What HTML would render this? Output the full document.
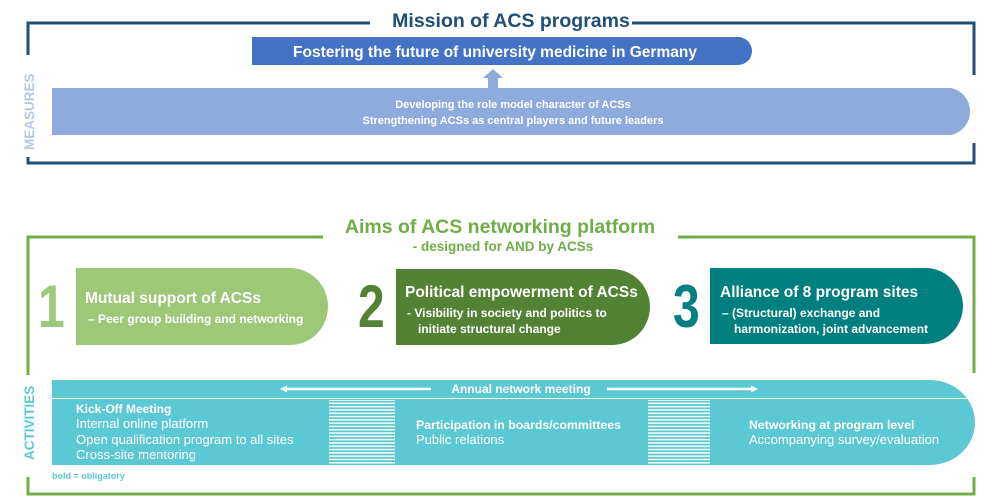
<!DOCTYPE html>
<html><head><meta charset="utf-8"><style>
html,body{margin:0;padding:0;background:#fff;width:1000px;height:498px;overflow:hidden}
svg{display:block}
text{font-family:"Liberation Sans",sans-serif;font-weight:bold}
</style></head><body>
<svg width="1000" height="498" viewBox="0 0 1000 498" xmlns="http://www.w3.org/2000/svg">
<g stroke="#1f4e79" stroke-width="3" fill="none">
<polyline points="28,55 28,23 370,23"/>
<polyline points="632,23 974,23 974,75"/>
<polyline points="28,157 28,163 974,163 974,143"/>
</g>
<text x="511" y="27" text-anchor="middle" font-size="19.5" fill="#1f4e79">Mission of ACS programs</text>
<path d="M252,37 H738 A14,14 0 0 1 738,65 H252 Z" fill="#4472c4"/>
<text x="495" y="57" text-anchor="middle" font-size="15.5" fill="#fff">Fostering the future of university medicine in Germany</text>
<path d="M488,88 V78 H483 L493,69 L503,78 H498 V88 Z" fill="#8faadc"/>
<path d="M52,88 H951 A24,24 0 0 1 951,135 H52 Z" fill="#8faadc"/>
<text x="513" y="108" text-anchor="middle" font-size="11" fill="#fff">Developing the role model character of ACSs</text>
<text x="513" y="124" text-anchor="middle" font-size="11" fill="#fff">Strengthening ACSs as central players and future leaders</text>
<text transform="translate(34,150) rotate(-90)" font-size="13.5" fill="#b4c7e7">MEASURES</text>

<g stroke="#70ad47" stroke-width="3" fill="none">
<polyline points="28,375 28,237 323,237"/>
<polyline points="678,237 974,237 974,373"/>
<polyline points="28,477 28,494 974,494 974,477"/>
</g>
<text x="500" y="233" text-anchor="middle" font-size="19.5" fill="#70ad47">Aims of ACS networking platform</text>
<text x="503" y="251" text-anchor="middle" font-size="13.5" fill="#70ad47">- designed for AND by ACSs</text>

<text x="38" y="327" font-size="60" fill="#9dc97a" transform="translate(38,0) scale(0.8,1) translate(-38,0)">1</text>
<path d="M76,268 H290 A38,38.5 0 0 1 290,345 H76 Z" fill="#9cc878"/>
<text x="85" y="303" font-size="15.5" fill="#fff">Mutual support of ACSs</text>
<text x="88" y="323" font-size="12" fill="#fff">– Peer group building and networking</text>

<text x="358" y="327" font-size="60" fill="#548235" transform="translate(358,0) scale(0.8,1) translate(-358,0)">2</text>
<path d="M396,269 H612 A38,38 0 0 1 612,345 H396 Z" fill="#548235"/>
<text x="405" y="297" font-size="15.5" fill="#fff">Political empowerment of ACSs</text>
<text x="407" y="317" font-size="12" fill="#fff">- Visibility in society and politics to</text>
<text x="418" y="333" font-size="12" fill="#fff">initiate structural change</text>

<text x="673" y="327" font-size="60" fill="#008080" transform="translate(673,0) scale(0.8,1) translate(-673,0)">3</text>
<path d="M710,268 H925 A38,38 0 0 1 925,344 H710 Z" fill="#007f7f"/>
<text x="720" y="297" font-size="15.5" fill="#fff">Alliance of 8 program sites</text>
<text x="722" y="317" font-size="12" fill="#fff">– (Structural) exchange and</text>
<text x="734" y="333" font-size="12" fill="#fff">harmonization, joint advancement</text>

<path d="M52,380 H930 A45,42.5 0 0 1 930,465 H52 Z" fill="#5bc8d4"/>
<line x1="52" y1="398.5" x2="970" y2="398.5" stroke="#fff" stroke-width="1"/>
<line x1="285" y1="389" x2="431" y2="389" stroke="#fff" stroke-width="2.5"/>
<path d="M280,389 L287,385.5 L287,392.5 Z" fill="#fff"/>
<line x1="607" y1="389" x2="752" y2="389" stroke="#fff" stroke-width="2.5"/>
<path d="M758,389 L751,385.5 L751,392.5 Z" fill="#fff"/>
<text x="521" y="393" text-anchor="middle" font-size="12" fill="#fff">Annual network meeting</text>
<defs><pattern id="st" width="4" height="3.3" patternUnits="userSpaceOnUse"><rect width="4" height="1.5" fill="#fff"/></pattern></defs>
<rect x="329" y="400" width="66" height="65" fill="url(#st)"/>
<rect x="648" y="400" width="62" height="65" fill="url(#st)"/>
<g font-size="12.5" fill="#fff">
<text x="76" y="413" font-size="12">Kick-Off Meeting</text>
<text x="76" y="428" font-size="13" style="font-weight:normal">Internal online platform</text>
<text x="76" y="444" font-size="13" style="font-weight:normal">Open qualification program to all sites</text>
<text x="76" y="459" font-size="13" style="font-weight:normal">Cross-site mentoring</text>
<text x="416" y="429" font-size="12.3">Participation in boards/committees</text>
<text x="416" y="444" font-size="13" style="font-weight:normal">Public relations</text>
<text x="749" y="429" font-size="12.3">Networking at program level</text>
<text x="749" y="444" font-size="13" style="font-weight:normal">Accompanying survey/evaluation</text>
</g>
<text x="52" y="479" font-size="9" fill="#5bc8d4">bold = obligatory</text>
<text transform="translate(34,460) rotate(-90)" font-size="13.5" fill="#5bc8d4">ACTIVITIES</text>
</svg>
</body></html>
